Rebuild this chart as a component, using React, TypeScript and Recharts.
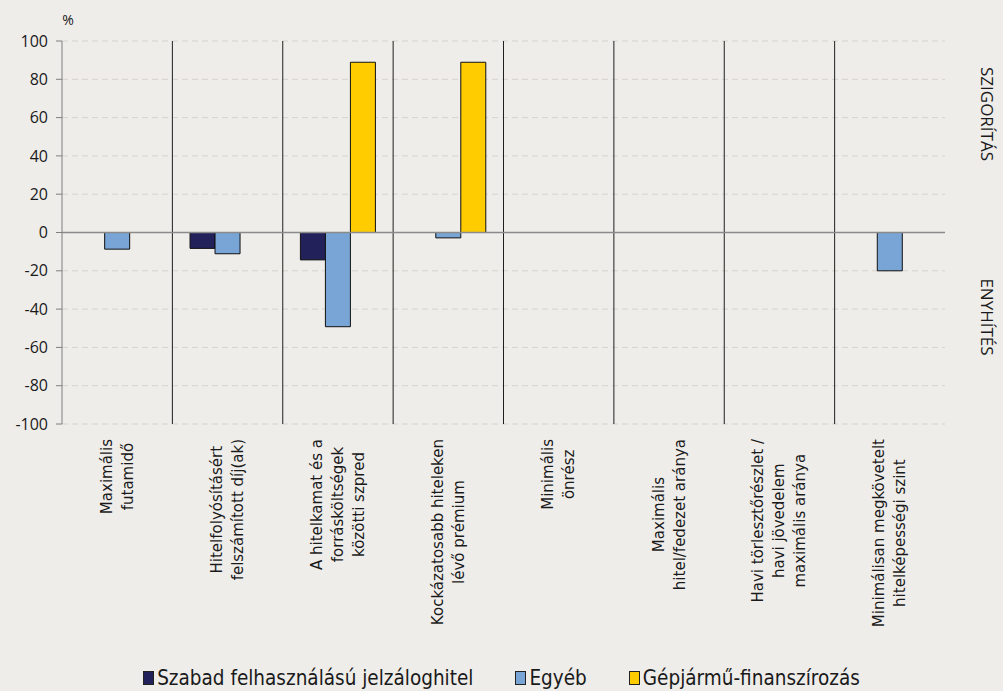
import React from 'react';
import { BarChart, Bar, XAxis, YAxis, CartesianGrid, ReferenceLine, Legend, Customized } from 'recharts';

const categories = [
  'Maximális\nfutamidő',
  'Hitelfolyósításért\nfelszámított díj(ak)',
  'A hitelkamat és a\nforrásköltségek\nközötti szpred',
  'Kockázatosabb hiteleken\nlévő prémium',
  'Minimális\nönrész',
  'Maximális\nhitel/fedezet aránya',
  'Havi törlesztőrészlet /\nhavi jövedelem\nmaximális aránya',
  'Minimálisan megkövetelt\nhitelképességi szint',
];
const szabad: (number | null)[] = [null, -8.3, -14.3, null, null, null, null, null];
const egyeb: (number | null)[] = [-8.7, -11.1, -49.2, -2.8, null, null, null, -20];
const gepjarmu: (number | null)[] = [null, null, 88.9, 88.9, null, null, null, null];
const yTicks = [-100, -80, -60, -40, -20, 0, 20, 40, 60, 80, 100];
const seriesNames = ['Szabad felhasználású jelzáloghitel', 'Egyéb', 'Gépjármű-finanszírozás'];
const seriesColors = ['#23215a', '#78a5d6', '#ffcc00'];

const data = categories.map((name, i) => ({
  name,
  szabad: szabad[i],
  egyeb: egyeb[i],
  gepjarmu: gepjarmu[i],
}));

const LABEL_FONT = '15px "DejaVu Sans"';
let ctx: CanvasRenderingContext2D | null = null;
function measure(t: string): number {
  if (!ctx) ctx = document.createElement('canvas').getContext('2d');
  if (!ctx) return t.length * 8;
  ctx.font = LABEL_FONT;
  return ctx.measureText(t).width;
}

function XTick(props: any) {
  const { x, y, payload } = props;
  const lines = String(payload.value).split('\n');
  const maxW = Math.max(...lines.map(measure));
  const lh = 21;
  const top = y + 9;
  const cy = top + maxW / 2;
  return (
    <g>
      {lines.map((ln: string, i: number) => {
        const lx = x - ((lines.length - 1) / 2) * lh + i * lh;
        return (
          <text
            key={i}
            transform={`translate(${lx},${cy}) rotate(-90)`}
            textAnchor="middle"
            dominantBaseline="central"
            fontFamily="DejaVu Sans"
            fontSize={15}
            fill="#1a1a1a"
          >
            {ln}
          </text>
        );
      })}
    </g>
  );
}

function SideLabels() {
  return (
    <g>
      <text x={68} y={25} fontFamily="Open Sans" fontSize={14} fill="#1a1a1a" textAnchor="middle">%</text>
      <text transform="translate(987,114) rotate(90)" textAnchor="middle" dominantBaseline="central" fontFamily="Open Sans" fontSize={17} fill="#1a1a1a">SZIGORÍTÁS</text>
      <text transform="translate(987,317) rotate(90)" textAnchor="middle" dominantBaseline="central" fontFamily="Open Sans" fontSize={17} fill="#1a1a1a">ENYHÍTÉS</text>
    </g>
  );
}

function LegendContent() {
  return (
    <div style={{ display: 'flex', justifyContent: 'center', alignItems: 'center', height: 24, gap: 42, fontFamily: '"DejaVu Sans Condensed", "Liberation Sans Narrow", "DejaVu Sans"', fontSize: 20.5, color: '#1a1a1a' }}>
      {seriesNames.map((n, i) => (
        <div key={n} style={{ display: 'flex', alignItems: 'center' }}>
          <span style={{ display: 'inline-block', width: 9, height: 12, background: seriesColors[i], border: '1px solid #222', marginRight: 3 }} />
          <span>{n}</span>
        </div>
      ))}
    </div>
  );
}

export default function App() {
  return (
    <div style={{ position: 'absolute', left: 0, top: 0, width: 1003, height: 691, background: '#efedea' }}>
      <BarChart
        width={1003}
        height={691}
        data={data}
        margin={{ top: 41, right: 58, bottom: 1, left: 12 }}
        barCategoryGap="16%"
        barGap={0}
      >
        <CartesianGrid vertical={false} stroke="#d6d3ce" strokeDasharray="6 4" />
        <XAxis
          dataKey="name"
          interval={0}
          axisLine={false}
          tickLine={false}
          tickMargin={0}
          height={242}
          tick={<XTick />}
        />
        <YAxis
          domain={[-100, 100]}
          ticks={yTicks}
          interval={0}
          width={50}
          axisLine={{ stroke: '#7f7f7f' }}
          tickLine={{ stroke: '#7f7f7f' }}
          tickSize={6}
          tickMargin={8}
          tick={{ fontFamily: 'Open Sans', fontSize: 16, fill: '#1a1a1a' }}
        />
        {categories.slice(1).map((c) => (
          <ReferenceLine key={c} x={c} position="start" stroke="#1f1f1f" strokeWidth={1} />
        ))}
        <ReferenceLine y={0} stroke="#8a8a8a" strokeWidth={1.5} />
        <Bar dataKey="szabad" name={seriesNames[0]} fill={seriesColors[0]} stroke="#111" strokeWidth={1} isAnimationActive={false} />
        <Bar dataKey="egyeb" name={seriesNames[1]} fill={seriesColors[1]} stroke="#111" strokeWidth={1} isAnimationActive={false} />
        <Bar dataKey="gepjarmu" name={seriesNames[2]} fill={seriesColors[2]} stroke="#111" strokeWidth={1} isAnimationActive={false} />
        <Legend verticalAlign="bottom" height={24} content={<LegendContent />} wrapperStyle={{ left: 0, width: 1003 }} />
        <Customized component={<SideLabels />} />
      </BarChart>
    </div>
  );
}
